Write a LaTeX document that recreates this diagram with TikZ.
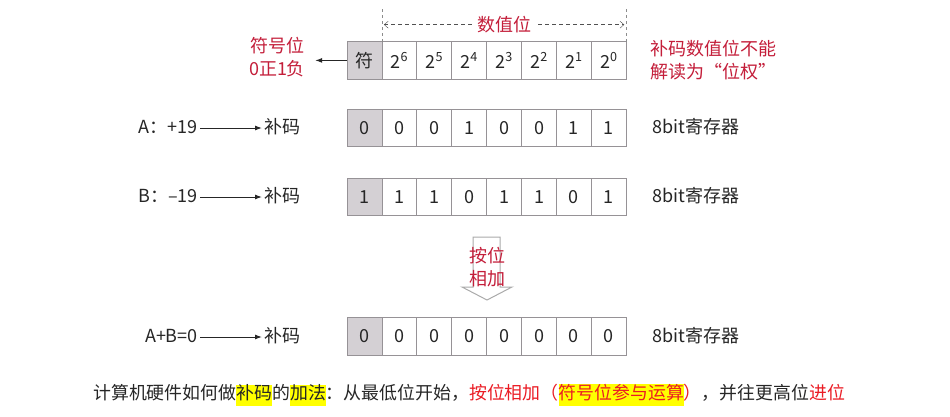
\documentclass[tikz,border=0pt]{standalone}
\usepackage{fontspec}
\setmainfont{Noto Sans CJK SC}
\usetikzlibrary{positioning, arrows.meta, calc}

\definecolor{labred}{RGB}{196,30,58}
\definecolor{brightred}{RGB}{235,28,36}
\definecolor{signgray}{RGB}{212,208,212}
\definecolor{cellline}{RGB}{150,146,150}
\definecolor{txtgray}{RGB}{38,38,38}
\definecolor{dashgray}{RGB}{140,140,140}
\definecolor{arrowgray}{RGB}{170,170,170}
\definecolor{hlyellow}{RGB}{255,255,0}

\newcommand{\hlbox}[1]{{\fboxsep=0pt\colorbox{hlyellow}{\strut #1}}}

\begin{document}
\begin{tikzpicture}[
    x=1pt, y=-1pt,
    >={Latex[length=7pt,width=5pt]},
    node distance=0pt,
    font=\fontsize{18}{23}\selectfont,
    cell/.style={draw=cellline, line width=0.8pt, minimum width=34.9pt, minimum height=37.5pt,
                 inner sep=0pt, outer sep=0pt, text=txtgray},
    sign/.style={cell, fill=signgray},
    redtxt/.style={text=labred, align=center},
    lbl/.style={text=txtgray, inner sep=2pt, text height=14pt, text depth=3pt}
  ]

  % 画布
  \fill[white] (0,0) rectangle (950,416);
  \useasboundingbox (0,0) rectangle (950,416);

  % 位权行
  \node[sign] (t0) at (364.5,60.4) {符};
  \node[cell] (t1) [right=of t0] {2\textsuperscript{6}};
  \node[cell] (t2) [right=of t1] {2\textsuperscript{5}};
  \node[cell] (t3) [right=of t2] {2\textsuperscript{4}};
  \node[cell] (t4) [right=of t3] {2\textsuperscript{3}};
  \node[cell] (t5) [right=of t4] {2\textsuperscript{2}};
  \node[cell] (t6) [right=of t5] {2\textsuperscript{1}};
  \node[cell] (t7) [right=of t6] {2\textsuperscript{0}};

  % A 的补码
  \node[sign] (a0) at (364.5,128) {0};
  \node[cell] (a1) [right=of a0] {0};
  \node[cell] (a2) [right=of a1] {0};
  \node[cell] (a3) [right=of a2] {1};
  \node[cell] (a4) [right=of a3] {0};
  \node[cell] (a5) [right=of a4] {0};
  \node[cell] (a6) [right=of a5] {1};
  \node[cell] (a7) [right=of a6] {1};

  % B 的补码
  \node[sign] (b0) at (364.5,197) {1};
  \node[cell] (b1) [right=of b0] {1};
  \node[cell] (b2) [right=of b1] {1};
  \node[cell] (b3) [right=of b2] {0};
  \node[cell] (b4) [right=of b3] {1};
  \node[cell] (b5) [right=of b4] {1};
  \node[cell] (b6) [right=of b5] {0};
  \node[cell] (b7) [right=of b6] {1};

  % A+B 的补码
  \node[sign] (s0) at (364.5,336.5) {0};
  \node[cell] (s1) [right=of s0] {0};
  \node[cell] (s2) [right=of s1] {0};
  \node[cell] (s3) [right=of s2] {0};
  \node[cell] (s4) [right=of s3] {0};
  \node[cell] (s5) [right=of s4] {0};
  \node[cell] (s6) [right=of s5] {0};
  \node[cell] (s7) [right=of s6] {0};

  % 数值位范围
  \coordinate (dl) at ($(t0.north east)+(0pt,34pt)$);
  \coordinate (dr) at ($(t7.north east)+(0pt,34pt)$);
  \draw[dashed, draw=dashgray] (t0.north east) -- (dl);
  \draw[dashed, draw=dashgray] (t7.north east) -- (dr);
  \coordinate (hl) at ($(t0.north east)+(2pt,17pt)$);
  \coordinate (hr) at ($(t7.north east)+(-2pt,17pt)$);
  \draw[{Straight Barb[length=4pt,width=7pt]}-{Straight Barb[length=4pt,width=7pt]},
        dash pattern=on 4pt off 3pt, draw=txtgray!80]
    (hl) -- node[redtxt, fill=white, inner xsep=5pt, inner ysep=0pt] (val) {数值位} (hr);

  % 符号位说明
  \node[redtxt, inner xsep=10pt] (sgn) at (277,57) {符号位\\0正1负};
  \draw[->, line width=1pt, draw=txtgray] (t0.west) -- (sgn.east |- t0.west);
  \node[redtxt] (note) at (713,60) {补码数值位不能\\解读为“位权”};

  % 真值到补码
  \node[lbl, anchor=east] (na) at (200,128) {A：+19};
  \node[lbl, anchor=west] (ca) at (262,128) {补码};
  \draw[->, line width=1pt, draw=txtgray] (na) -- (ca);
  \node[lbl, anchor=east] (nb) at (200,197) {B：–19};
  \node[lbl, anchor=west] (cb) at (262,197) {补码};
  \draw[->, line width=1pt, draw=txtgray] (nb) -- (cb);
  \node[lbl, anchor=east] (ns) at (200,337) {A+B=0};
  \node[lbl, anchor=west] (cs) at (262,337) {补码};
  \draw[->, line width=1pt, draw=txtgray] (ns) -- (cs);

  % 寄存器
  \node[lbl, anchor=west] (ra) [right=24pt of a7] {8bit寄存器};
  \node[lbl, anchor=west] (rb) [right=24pt of b7] {8bit寄存器};
  \node[lbl, anchor=west] (rs) [right=24pt of s7] {8bit寄存器};

  % 按位相加（空心箭头）
  \draw[draw=arrowgray, line width=1pt, fill=white]
    (473,237) -- (500,237) -- (500,287) -- (512,287) -- (487,300)
    -- (462,287) -- (473,287) -- cycle;
  \node[redtxt] (add) at (487,267) {按位\\相加};

  % 说明文字
  \node[anchor=west, inner sep=0pt, text=txtgray, font=\fontsize{17.9}{20.5}\selectfont] (cap) at (93,395)
    {计算机硬件如何做\hlbox{补码}的\hlbox{加法}：从最低位开始，\textcolor{brightred}{按位相加（\hlbox{符号位参与运算}）}，并往更高位\textcolor{brightred}{进位}};

\end{tikzpicture}
\end{document}
